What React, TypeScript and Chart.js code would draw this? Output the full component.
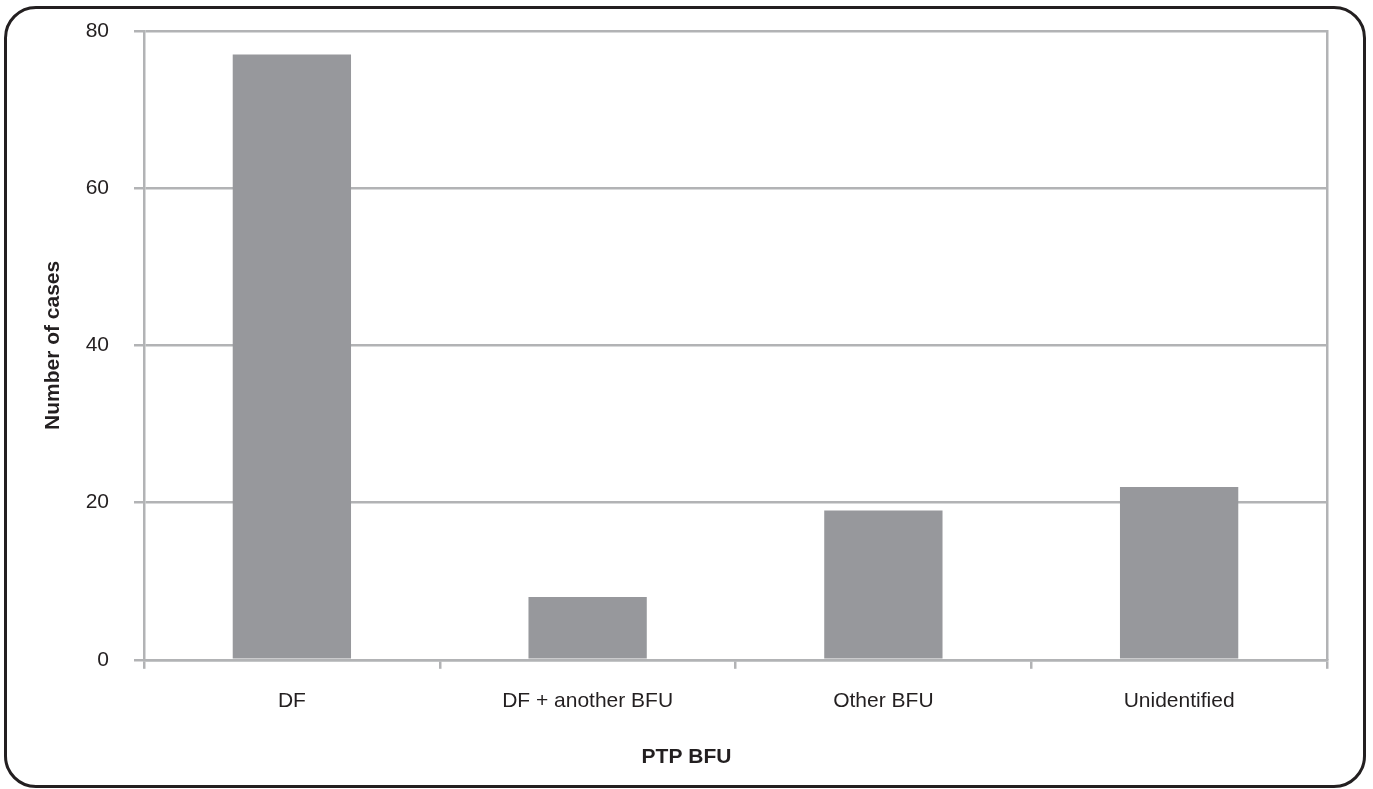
import React, { useEffect, useRef } from "react";
import { Chart, registerables } from "chart.js";

Chart.register(...registerables);

const categories = ["DF", "DF + another BFU", "Other BFU", "Unidentified"];
const caseCounts = [77, 8, 19, 22];
const yMin = 0;
const yMax = 80;
const yStep = 20;
const yTitle = "Number of cases";
const xTitle = "PTP BFU";

const W = 1373;
const H = 789;
const FONT = "'Liberation Sans', Arial, sans-serif";
const TEXT = "#231f20";
const GRID = "#b2b3b5";
const BAR = "#97989c";

export default function App() {
  const ref = useRef<HTMLCanvasElement | null>(null);

  useEffect(() => {
    if (!ref.current) return;
    const chart = new Chart(ref.current, {
      type: "bar",
      data: {
        labels: categories,
        datasets: [
          {
            data: caseCounts,
            backgroundColor: BAR,
            borderWidth: 0,
            barPercentage: 0.4,
            categoryPercentage: 1,
          },
        ],
      },
      options: {
        responsive: false,
        animation: false,
        layout: { padding: { left: 10, right: 10, top: 31, bottom: 10 } },
        plugins: {
          legend: { display: false },
          tooltip: { enabled: false },
          title: {
            display: true,
            position: "bottom",
            text: xTitle,
            color: TEXT,
            font: { family: FONT, size: 21, weight: "bold" },
            padding: { top: 5, bottom: 9 },
          },
        },
        scales: {
          x: {
            offset: true,
            grid: {
              offset: true,
              drawOnChartArea: false,
              color: GRID,
              lineWidth: 2.5,
              tickLength: 9,
            },
            border: { display: true, color: GRID, width: 2.5 },
            ticks: {
              color: TEXT,
              font: { family: FONT, size: 21 },
              padding: 20,
              maxRotation: 0,
            },
            afterFit: (s: any) => {
              s.height = 80;
            },
          },
          y: {
            min: yMin,
            max: yMax,
            position: "left",
            grid: { color: GRID, lineWidth: 2.5, tickLength: 10 },
            border: { display: true, color: GRID, width: 2.5 },
            ticks: {
              stepSize: yStep,
              color: TEXT,
              font: { family: FONT, size: 21 },
              padding: 25,
            },
            title: {
              display: true,
              text: yTitle,
              color: TEXT,
              font: { family: FONT, size: 21, weight: "bold" },
              padding: { top: 31, bottom: 0 },
            },
            afterFit: (s: any) => {
              s.width = 134;
              s.paddingTop = 0;
              s.paddingBottom = 0;
            },
          },
          y2: {
            min: yMin,
            max: yMax,
            position: "right",
            grid: { display: false, drawTicks: false },
            border: { display: true, color: GRID, width: 2.5 },
            ticks: { display: false },
            afterFit: (s: any) => {
              s.width = 36;
              s.paddingTop = 0;
              s.paddingBottom = 0;
            },
          },
        },
      },
    });
    return () => chart.destroy();
  }, []);

  return (
    <div style={{ position: "fixed", left: 0, top: 0, width: W, height: H, background: "#fff" }}>
      <canvas ref={ref} width={W} height={H} style={{ position: "absolute", left: 0, top: 0, width: W, height: H }} />
      <div
        style={{
          position: "absolute",
          left: 4,
          top: 6,
          width: 1362,
          height: 782,
          boxSizing: "border-box",
          border: `3px solid ${TEXT}`,
          borderRadius: 32,
          pointerEvents: "none",
        }}
      />
    </div>
  );
}
